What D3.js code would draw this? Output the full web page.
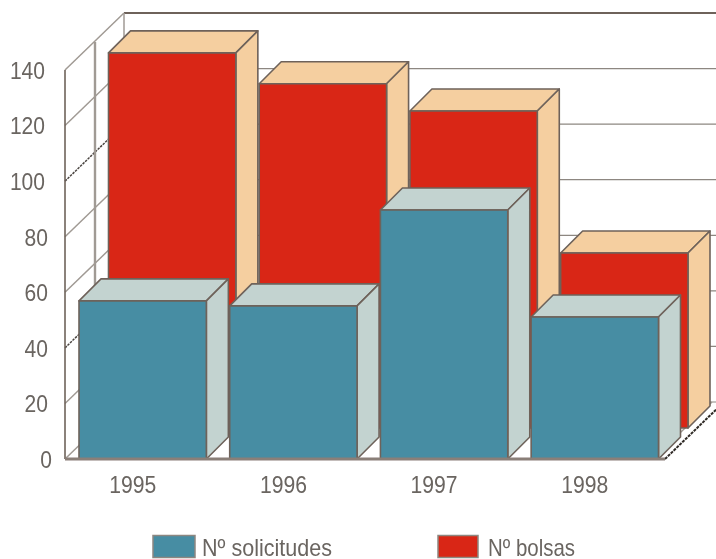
<!DOCTYPE html>
<html><head><meta charset="utf-8">
<script src="https://cdn.jsdelivr.net/npm/d3@7/dist/d3.min.js"></script>
<style>html,body{margin:0;padding:0;background:#fff}svg{display:block}
text{font-family:"Liberation Sans",Arial,sans-serif;fill:#6a6561}</style></head>
<body><svg id="c" width="716" height="559"></svg>
<script>
const years=["1995","1996","1997","1998"];
const solicitudes=[56.9,55.1,89.6,51.1];
const bolsas=[135,123.9,114.1,63];
const yTicks=[0,20,40,60,80,100,120,140];
const darkTicks=[40,100];
const legendLabels=["Nº solicitudes","Nº bolsas"];

const W=716,H=559;
const svg=d3.select("#c");
const defs=svg.append("defs");
defs.append("filter").attr("id","soft").attr("x","-5%").attr("y","-5%").attr("width","110%").attr("height","110%")
  .append("feGaussianBlur").attr("stdDeviation",0.65);
const g=svg.append("g").attr("filter","url(#soft)");

const x=d3.scaleBand().domain(years).range([79,658.5]).paddingInner(0.155);
const y=d3.scaleLinear().domain([0,140]).range([459,70]);
const wall={dx:59,dy:-57}, mid={dx:30,dy:-28};
const line="#6e625a", grid="#a09a94";
const left=65, right=665;

// walls and grid
const gridG=g.append("g").attr("fill","none").attr("stroke",grid).attr("stroke-width",1.5);
yTicks.forEach(t=>{
  const p=y(t), dark=darkTicks.includes(t);
  gridG.append("polyline").attr("points",[[left,p],[left+wall.dx,p+wall.dy]].join(" "))
    .attr("stroke",dark?"#4a4440":grid).attr("stroke-dasharray",dark?"2.5 1":null);
  gridG.append("line").attr("x1",left+wall.dx).attr("x2",W).attr("y1",p+wall.dy).attr("y2",p+wall.dy)
    .attr("stroke",t===140?line:"#8d8781").attr("stroke-width",t===140?2:1.2);
});
gridG.append("line").attr("x1",left).attr("x2",left).attr("y1",y(140)).attr("y2",y(0)).attr("stroke",line).attr("stroke-width",1.6);
gridG.append("line").attr("x1",left+mid.dx).attr("x2",left+mid.dx).attr("y1",y(140)+mid.dy).attr("y2",y(0)+mid.dy).attr("stroke-width",2.4);
gridG.append("line").attr("x1",left+wall.dx).attr("x2",left+wall.dx).attr("y1",y(140)+wall.dy).attr("y2",y(0)+wall.dy);
gridG.append("line").attr("x1",right).attr("x2",right+wall.dx).attr("y1",y(0)).attr("y2",y(0)+wall.dy).attr("stroke","#2f2a26").attr("stroke-width",2).attr("stroke-dasharray","3 1");
gridG.append("line").attr("x1",right-12).attr("x2",right+wall.dx-12).attr("y1",y(0)).attr("y2",y(0)+wall.dy);

function bars(vals,ox,oy,front,light){
  const d=22;
  const s=g.append("g").attr("stroke",line).attr("stroke-width",1.6).attr("stroke-linejoin","round");
  years.forEach((yr,i)=>{
    const x0=x(yr)+ox, x1=x0+x.bandwidth(), t=y(vals[i])+oy, b=y(0)+oy;
    s.append("polygon").attr("fill",light).attr("points",[[x0,t],[x0+d,t-d],[x1+d,t-d],[x1,t]].join(" "));
    s.append("polygon").attr("fill",light).attr("points",[[x1,t],[x1+d,t-d],[x1+d,b-d],[x1,b]].join(" "));
    s.append("rect").attr("fill",front).attr("x",x0).attr("y",t).attr("width",x.bandwidth()).attr("height",b-t);
  });
}
bars(bolsas,29.5,-31,"#d92814","#f5cfa0");
bars(solicitudes,0,0,"#478da3","#c3d3d0");
// floor front edge
g.append("line").attr("x1",left).attr("x2",right).attr("y1",y(0)).attr("y2",y(0)).attr("stroke","#8a7f78").attr("stroke-width",3);

// axis labels
const digitW=11.7;
const yAxis=d3.axisLeft(y).tickValues(yTicks).tickSize(0).tickPadding(0);
const ya=g.append("g").attr("transform","translate(0,0)").call(yAxis);
ya.select(".domain").remove();
ya.selectAll("text")
  .attr("font-size",24).attr("dy","0.35em")
  .attr("x",d=>{const n=String(d).length;return n===3?45:n===2?48:52;})
  .attr("textLength",d=>String(d).length*digitW).attr("lengthAdjust","spacingAndGlyphs")
  .style("font-family",'"Liberation Sans",Arial,sans-serif').style("fill","#6a6561");

g.append("g").selectAll("text").data(years).join("text")
  .attr("x",d=>x(d)+x.bandwidth()/2-10).attr("y",492.5)
  .attr("text-anchor","middle").attr("font-size",24)
  .attr("textLength",47).attr("lengthAdjust","spacingAndGlyphs").text(d=>d);

// legend
const legendX=[153,438], legendW=[42,40], textX=[202,488], textLen=[130,87], legendFill=["#478da3","#d92814"];
legendFill.forEach((c,i)=>{
  g.append("rect").attr("x",legendX[i]).attr("y",535.5).attr("width",legendW[i]).attr("height",22)
   .attr("fill",c).attr("stroke","#8d8781").attr("stroke-width",1.5);
  g.append("text").attr("x",textX[i]).attr("y",555.5).attr("font-size",24)
   .attr("textLength",textLen[i]).attr("lengthAdjust","spacingAndGlyphs").text(legendLabels[i]);
});
</script></body></html>
